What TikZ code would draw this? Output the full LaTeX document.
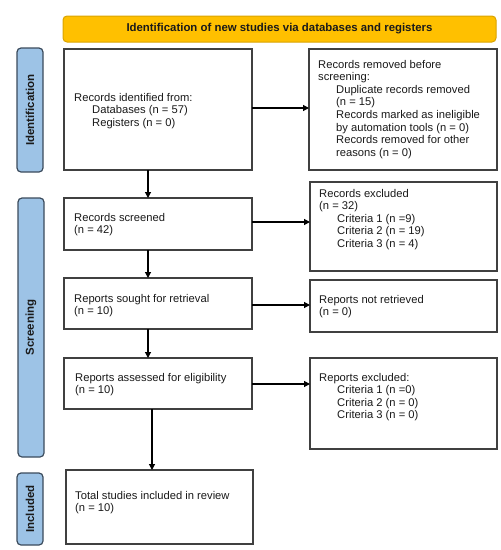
\documentclass[tikz,border=0pt]{standalone}
\usepackage{fontspec}
\setmainfont{Liberation Sans}
\usetikzlibrary{arrows.meta}
\definecolor{banner}{HTML}{FFC000}
\definecolor{bannerline}{HTML}{D9A300}
\definecolor{side}{HTML}{9DC3E6}
\definecolor{sideline}{HTML}{3B4B5C}
\definecolor{boxline}{HTML}{404040}
\definecolor{txt}{HTML}{1A1A1A}
\tikzset{
  box/.style={draw=boxline, line width=1.3pt, inner sep=0pt, outer sep=0pt, fill=white},
  sidebox/.style={draw=sideline, fill=side, line width=1.2pt, rounded corners=4pt, inner sep=0pt, outer sep=0pt},
  bannerbox/.style={draw=bannerline, fill=banner, line width=1pt, rounded corners=4pt, inner sep=0pt, outer sep=0pt},
  boxtext/.style={anchor=base west, align=left, inner sep=0pt, text=txt, font=\fontsize{11.2}{12.6}\selectfont},
  sidetext/.style={rotate=90, inner sep=0pt, text=txt, font=\fontsize{11.5}{13}\selectfont\bfseries},
  arr/.style={draw=black, line width=1.2pt, -{Triangle[length=6pt,width=6pt]}}
}
\newcommand{\ind}{\hspace*{18pt}}
\begin{document}
\begin{tikzpicture}[x=1pt,y=-1pt]
\useasboundingbox (0,0) rectangle (501,550);
% banner
\node[bannerbox, minimum width=433pt, minimum height=26pt] (ban) at (279.5,29) {};
\node[inner sep=0pt, text=txt, font=\fontsize{11.4}{13}\selectfont\bfseries] (bant) at (ban) {Identification of new studies via databases and registers};
% side labels
\node[sidebox, minimum width=26pt, minimum height=124pt] (s1) at (30,110) {};
\node[sidetext] (s1t) at (s1) {Identification};
\node[sidebox, minimum width=26pt, minimum height=259pt] (s2) at (31,327.5) {};
\node[sidetext] (s2t) at (s2) {Screening};
\node[sidebox, minimum width=26pt, minimum height=72pt] (s3) at (30,509) {};
\node[sidetext] (s3t) at (s3) {Included};
% boxes
\node[box, minimum width=188pt, minimum height=121pt] (b1) at (158,109.5) {};
\node[box, minimum width=188pt, minimum height=121pt] (r1) at (403,109.5) {};
\node[box, minimum width=188pt, minimum height=52pt] (b2) at (158,224) {};
\node[box, minimum width=187pt, minimum height=89pt] (r2) at (403.5,226.5) {};
\node[box, minimum width=188pt, minimum height=51pt] (b3) at (158,303.5) {};
\node[box, minimum width=187pt, minimum height=52pt] (r3) at (403.5,306) {};
\node[box, minimum width=188pt, minimum height=51pt] (b4) at (158,383.5) {};
\node[box, minimum width=187pt, minimum height=91pt] (r4) at (403.5,403.5) {};
\node[box, minimum width=187pt, minimum height=74pt] (b5) at (159.5,507) {};
% texts (anchor = baseline of last line)
\node[boxtext] (b1t) at (74,126.2) {Records identified from:\\\ind Databases (n = 57)\\\ind Registers (n = 0)};
\node[boxtext] (r1t) at (318,156.2) {Records removed before\\screening:\\\ind Duplicate records removed\\\ind (n = 15)\\\ind Records marked as ineligible\\\ind by automation tools (n = 0)\\\ind Records removed for other\\\ind reasons (n = 0)};
\node[boxtext] (b2t) at (74,233.6) {Records screened\\(n = 42)};
\node[boxtext] (r2t) at (319,247.4) {Records excluded\\(n = 32)\\\ind Criteria 1 (n =9)\\\ind Criteria 2 (n = 19)\\\ind Criteria 3 (n = 4)};
\node[boxtext] (b3t) at (74,314.6) {Reports sought for retrieval\\(n = 10)};
\node[boxtext] (r3t) at (319,315.6) {Reports not retrieved\\(n = 0)};
\node[boxtext] (b4t) at (75,393.6) {Reports assessed for eligibility\\(n = 10)};
\node[boxtext] (r4t) at (319,418.8) {Reports excluded:\\\ind Criteria 1 (n =0)\\\ind Criteria 2 (n = 0)\\\ind Criteria 3 (n = 0)};
\node[boxtext] (b5t) at (75,511.6) {Total studies included in review\\(n = 10)};
% arrows
\draw[arr] ([yshift=1.5pt]b1.east) -- ([yshift=1.5pt]b1.east -| r1.west);
\draw[arr] ([yshift=2pt]b2.east) -- ([yshift=2pt]b2.east -| r2.west);
\draw[arr] ([yshift=-1.5pt]b3.east) -- ([yshift=-1.5pt]b3.east -| r3.west);
\draw[arr] ([yshift=-0.5pt]b4.east) -- ([yshift=-0.5pt]b4.east -| r4.west);
\draw[arr] ([xshift=-10pt]b1.south) -- ([xshift=-10pt]b1.south |- b2.north);
\draw[arr] ([xshift=-10pt]b2.south) -- ([xshift=-10pt]b2.south |- b3.north);
\draw[arr] ([xshift=-10pt]b3.south) -- ([xshift=-10pt]b3.south |- b4.north);
\draw[arr] ([xshift=-6pt]b4.south) -- ([xshift=-6pt]b4.south |- b5.north);
\end{tikzpicture}
\end{document}
